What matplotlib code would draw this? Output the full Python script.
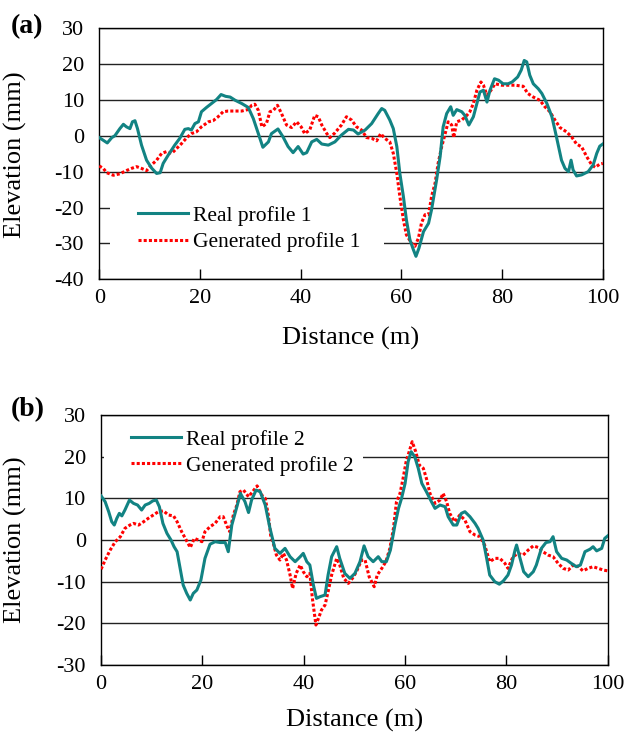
import matplotlib
matplotlib.use("Agg")
import matplotlib.pyplot as plt
from matplotlib.patches import Rectangle

plt.rcParams['font.family'] = ['Liberation Serif', 'DejaVu Serif']
plt.rcParams['axes.unicode_minus'] = False

# ---------------- data: panel (a) ----------------
real1_x = [0, 1.6, 2.5, 3.1, 4.1, 4.8, 5.4, 6.1, 6.6, 7.1, 7.6, 8.4, 9.4, 10.4, 11.4, 12.1, 12.7, 13.7,
           15, 16, 17, 17.7, 18.3, 19, 19.7, 20.3, 21.3, 22.3, 23.3, 24.2, 25.1, 26, 27, 28.3, 29.6, 30.6,
           31.6, 32.5, 33.6, 34.2, 35.5, 36.5, 37.5, 38.5, 39.5, 40.5, 41.2, 42.2, 43.2, 44.2, 45.5, 46.8,
           48.1, 49.5, 50.5, 51.4, 52.8, 54.1, 55.4, 56.1, 56.7, 57.7, 58.4, 59.1, 59.7, 60.4, 61, 61.7,
           62.4, 62.9, 63.5, 64.4, 65.4, 66, 67, 67.7, 68.3, 69, 69.8, 70.3, 71, 72, 72.6, 73.4, 74.3, 75,
           75.6, 76.3, 77, 77.6, 78.5, 79.3, 80.2, 81.2, 82, 83.1, 83.8, 84.4, 84.9, 85.5, 86.2, 87.2, 87.9,
           88.9, 89.9, 90.8, 91.8, 92.5, 93.2, 93.7, 94.1, 94.8, 95.8, 97.1, 98.1, 98.8, 99.4, 100]
real1_y = [-0.5, -2, -0.5, 0, 2, 3.2, 2.5, 2, 3.9, 4.2, 2, -2.6, -6.8, -9, -10.5, -10.3, -7.7, -5.4,
           -2.6, -0.7, 1.8, 2, 1.6, 3.4, 3.9, 6.7, 7.9, 9, 10.1, 11.5, 11, 10.8, 9.9, 9, 7.9, 4.8,
           0.6, -3.2, -1.7, 0.6, 1.9, -0.3, -3, -4.7, -3, -5.1, -4.7, -1.7, -1, -2.3, -2.6, -1.7,
           0.2, 1.8, 1.6, 0.5, 1.6, 3.4, 6.2, 7.6, 7.1, 4.4, 2, -3, -10.5, -16.9, -23.4, -29,
           -31.8, -33.6, -31.3, -26.7, -24.4, -20.6, -12.3, -5.8, 2.5, 6.2, 8.1, 5.7, 7.3, 6.7, 5.7, 3, 5.3, 9,
           12.2, 12.7, 9.4, 12.7, 15.9, 15.5, 14.5, 14.5, 15, 16.4, 18.3, 21, 20.6, 16.9, 14.5, 13.1, 11.8,
           9, 5.3, -0.3, -6.8, -9.1, -10, -6.8, -9.5, -11.2, -10.9, -10, -8.1, -4.9, -2.9, -2.3]

gen1_x = [0, 0.8, 1.5, 2.8, 4.1, 5.4, 6.4, 7.4, 8.4, 9.4, 10.4, 11.4, 12.4, 13.4, 14.4, 15.4, 16.4, 17.4,
          18.3, 19.3, 20.3, 21.7, 22.6, 23.6, 24.6, 25.6, 26.9, 28.3, 29.5, 30.3, 30.9, 31.6, 32.3, 33.2,
          33.9, 34.6, 35.4, 36.2, 37.2, 38.2, 39.2, 40.1, 40.8, 41.8, 42.8, 43.5, 44.2, 45.2, 45.8, 46.8,
          48.1, 49.1, 50.1, 51.1, 52.1, 53.1, 54.1, 55.1, 55.9, 56.7, 57.7, 58.4, 59.1, 59.7, 60.4, 61, 62,
          62.7, 63.4, 64, 64.7, 65.4, 66, 66.7, 67.3, 68, 68.7, 69.3, 70, 70.4, 71, 72, 73, 73.6, 74.3, 75,
          75.8, 76.3, 77, 77.8, 78.6, 79.9, 81.2, 82.6, 84.2, 85.1, 86.2, 87.5, 88.5, 89.5, 90.5, 91.5,
          92.8, 93.8, 94.8, 95.8, 96.8, 97.8, 98.5, 99.4, 100]
gen1_y = [-8.4, -9.1, -10.3, -11, -10.6, -9.7, -9.1, -8.6, -9.1, -9.7, -8.1, -6.8, -4.9, -4.4, -4.9, -3.5,
          -2.1, -0.5, 0.6, 1.1, 2.5, 3.9, 4.2, 5.3, 6.7, 6.9, 6.9, 6.9, 7.3, 8.5, 8.8, 7.1, 2.5, 3.4,
          6.7, 7.1, 8.5, 6.2, 3, 2.3, 3.9, 2.5, 0.6, 1.6, 5.7, 5.3, 3, 0.6, -0.5, 0.8,
          3, 5.3, 4.4, 2.5, 1.6, -0.5, -0.7, -1.4, 0.6, -0.7, -1.7, -4.9, -10.5, -16.9, -23.4, -27.6, -29.9,
          -30.8, -28.5, -24.3, -22, -22, -16.9, -13.2, -7.7, -3.1, 0.6, 3.9, 3, -0.5, 3.9, 4.4, 5.7, 6.7, 9, 12.7,
          15, 14.1, 11.3, 12.7, 14.5, 14.1, 14.1, 14.1, 13.8, 11.8, 10.8, 9.9, 8.1, 6.7, 4.4, 2.3,
          1.1, -0.3, -2.3, -3.1, -5.8, -8.1, -8.8, -7.9, -7.7]

# ---------------- data: panel (b) ----------------
real2_x = [0, 0.8, 1.5, 2.1, 2.6, 3.1, 3.6, 4.1, 4.7, 5.6, 6.4, 7.2, 8, 8.7, 9.5, 10.2, 10.9, 11.5, 12.2,
           13, 13.8, 14.4, 15, 15.6, 16.2, 16.9, 17.6, 18.2, 18.9, 19.7, 20.5, 21.5, 22.5, 23.5, 24.5,
           25.1, 25.8, 26.8, 27.5, 28.4, 29.1, 29.7, 30.6, 31.4, 32.4, 33.3, 34.3, 35.3, 36.3, 37.3,
           38.3, 39.3, 39.9, 40.6, 41.2, 41.9, 42.5, 43.2, 44.2, 44.8, 45.5, 46.5, 47.1, 48.1, 49.1,
           50.1, 51.1, 51.9, 52.7, 53.7, 54.7, 55.4, 56.3, 57.1, 58, 58.7, 59.3, 60, 60.6, 61.2, 61.9,
           62.6, 63.3, 64.2, 65.2, 65.9, 66.9, 67.9, 68.5, 69.5, 70.2, 71.1, 71.8, 72.8, 73.8, 74.4,
           75.4, 76.1, 76.7, 77.7, 78.6, 79.4, 80.3, 81, 81.7, 82, 82.6, 83.4, 84.3, 85.3, 85.9, 86.9,
           87.8, 88.6, 89.2, 89.9, 90.9, 91.9, 92.8, 93.8, 94.6, 95.5, 96.5, 97.1, 97.8, 98.8, 99.4, 100]
real2_y = [10.6, 9.2, 6.8, 4.4, 3.6, 5.2, 6.4, 5.8, 7.2, 9.6, 8.8, 8.4, 7.2, 8.4, 8.8, 9.4, 9.6, 8, 4,
           1.6, 0, -1.6, -2.8, -6.8, -10.8, -12.8, -14.4, -12.8, -12, -9.6, -4.4, -1, -0.4, -0.6, -0.6,
           -2.8, 3.6, 8, 11.2, 9.2, 6.6, 9.6, 12, 11.6, 8.4, 3, -2, -3.2, -2, -4,
           -5.2, -4, -3.2, -5.2, -6, -10.8, -14, -13.6, -13.2, -8.4, -4, -1.6, -4.4, -8, -9.2,
           -8, -5.2, -1.4, -4, -5.2, -4, -5.2, -5.2, -2.4, 3.6, 7.6, 10, 13.6, 18.8, 21.2, 20,
           17.2, 13.6, 11.6, 9.2, 7.6, 8.4, 8, 5.6, 3.6, 3.6, 6.4, 6.8, 5.6, 4, 2.8,
           0, -4.4, -8.4, -10, -10.6, -9.8, -8.4, -6, -2.4, -1.2, -4, -7.6, -8.8, -7.6, -6, -2,
           -0.6, -0.4, 0.8, -2.8, -4.4, -4.8, -5.6, -6.4, -6, -2.8, -2.2, -1.6, -2.6, -2, 0.4, 1]

gen2_x = [0, 0.8, 1.8, 2.8, 3.8, 4.7, 5.7, 6.4, 7.4, 8.4, 9.3, 10.3, 11.3, 12.3, 13.3, 14.3, 15, 15.9,
          16.8, 17.6, 18.4, 19.2, 19.9, 20.5, 21.5, 22.5, 23.5, 24.1, 24.9, 25.4, 26.1, 26.8, 27.4, 28.1,
          29.1, 29.9, 30.8, 31.7, 32.4, 33, 33.5, 34, 34.6, 35.3, 36, 36.6, 37.3, 37.8, 38.5, 39.3, 39.9,
          40.6, 41.2, 41.7, 42.4, 42.9, 43.5, 44.2, 44.8, 45.5, 46.5, 47.1, 47.9, 48.8, 49.6, 50.4, 51.4,
          52.1, 52.9, 53.9, 54.5, 55.4, 56.2, 57, 57.7, 58.3, 59, 59.6, 60.2, 60.8, 61.4, 62.1, 62.8, 63.6,
          64.2, 64.9, 65.9, 66.9, 67.5, 68.2, 68.8, 69.8, 70.8, 71.8, 72.8, 73.8, 74.8, 75.7, 76.7, 77.7,
          78.7, 79.7, 80.3, 81.3, 82.3, 83.3, 84.3, 85.3, 86.3, 87.2, 88.2, 89.2, 90.2, 91.2, 92.2, 93.2,
          94.2, 95.1, 96.1, 97.1, 98.1, 99.1, 100]
gen2_y = [-7, -4.8, -2.4, -0.4, 0.8, 2.8, 3.6, 4, 3.6, 4.4, 5.2, 6, 6.8, 7, 6, 5.8, 4.4, 2,
          0, -1.8, 0.4, 0, -0.4, 2, 3.2, 4, 5.6, 5.6, 3.2, 2, 6, 8.4, 11.6, 12,
          10.4, 11.6, 13, 10.8, 10, 6, 0.8, -0.8, -3.6, -4.8, -3.2, -4.8, -8.4, -11.6, -8, -6, -7.6,
          -8.8, -8, -14, -20.4, -18.8, -16.8, -15.6, -12.4, -8.4, -4.4, -6, -9.2, -10.4, -9.2, -7.6, -4.8,
          -4.8, -8.8, -11.2, -8.4, -6.8, -5.2, -2, 2.8, 9.2, 11.2, 14.8, 18.8, 21.2, 23.6, 21.2, 18, 17.2,
          14.8, 11.2, 8.8, 9.6, 11.2, 9.2, 6.4, 4.4, 6, 4.8, 2, 1.2, 0.8, -1.2, -5.2, -4.4,
          -4.4, -5.6, -6.8, -4, -3.2, -3.6, -2.4, -1.4, -1.8, -2.8, -3.6, -4, -5.6, -6.8, -7.2, -6,
          -6.4, -7.4, -6.8, -6.4, -6.8, -7.2, -7.4]

x_ticks = [0, 20, 40, 60, 80, 100]
ya_ticks = [-40, -30, -20, -10, 0, 10, 20, 30]
yb_ticks = [-30, -20, -10, 0, 10, 20, 30]
labels_a = ['Real profile 1', 'Generated profile 1']
labels_b = ['Real profile 2', 'Generated profile 2']

TEAL = '#128383'
RED = '#ff0000'

fig = plt.figure(figsize=(6.24, 7.32), dpi=100)
ax1 = fig.add_axes([0.159, 0.6185, 0.807, 0.343])
ax2 = fig.add_axes([0.162, 0.0915, 0.812, 0.3415])


def style(ax, yticks, ylim, rect, leg_anchor, labels, rx, ry, gx, gy, xlab_y):
    ax.set_xlim(0, 100)
    ax.set_ylim(*ylim)
    ax.set_xticks(x_ticks)
    ax.set_yticks(yticks)
    ax.tick_params(axis='x', direction='in', length=7, width=1, pad=7, labelsize=16)
    ax.tick_params(axis='y', length=0, pad=11, labelsize=16)
    for y in yticks:
        ax.axhline(y, color='#222222', lw=1.0, zorder=1)
    for s in ax.spines.values():
        s.set_color('black')
        s.set_linewidth(1.0)
    ax.add_patch(Rectangle((rect[0], rect[1]), rect[2], rect[3], transform=ax.transAxes,
                           facecolor='white', edgecolor='none', zorder=1.5))
    ax.plot(gx, gy, color=RED, lw=2.2, linestyle=(0, (1, 0.7)), zorder=3, label=labels[1])
    ax.plot(rx, ry, color=TEAL, lw=2.2, zorder=4, label=labels[0])
    h, l = ax.get_legend_handles_labels()
    ax.legend(h[::-1], l[::-1], loc='upper left', bbox_to_anchor=leg_anchor, frameon=False,
              fontsize=15.5, handlelength=2.3, handletextpad=0.25, labelspacing=0.28,
              borderpad=0, borderaxespad=0)
    ax.set_xlabel('Distance (m)', fontsize=19)
    ax.xaxis.set_label_coords(0.5, xlab_y)
    ax.set_ylabel('Elevation (mm)', fontsize=19)


style(ax1, ya_ticks, (-40, 30), (0.021, 0.07, 0.544, 0.28), (0.077, 0.292), labels_a,
      real1_x, real1_y, gen1_x, gen1_y, -0.19)
ax1.yaxis.set_label_coords(-0.1435, 0.495)
style(ax2, yb_ticks, (-30, 30), (0.005, 0.74, 0.511, 0.24), (0.06, 0.942), labels_b,
      real2_x, real2_y, gen2_x, gen2_y, -0.177)
ax2.yaxis.set_label_coords(-0.147, 0.5)

fig.text(0.043, 0.963, '(a)', fontsize=20, fontweight='bold', ha='center', va='center')
fig.text(0.045, 0.44, '(b)', fontsize=20, fontweight='bold', ha='center', va='center')

fig.savefig('out.png', dpi=100)
